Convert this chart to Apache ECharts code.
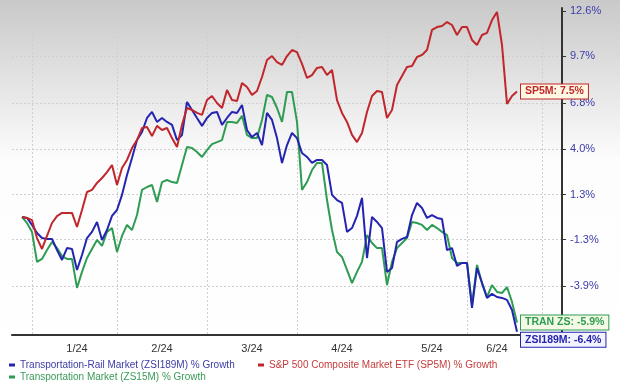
<!DOCTYPE html>
<html><head><meta charset="utf-8">
<script src="https://cdn.jsdelivr.net/npm/echarts@6/dist/echarts.min.js"></script>
<style>html,body{margin:0;padding:0;background:#fff}#c{width:620px;height:384px}</style>
</head><body><div id="c"></div>
<script>
// % growth, one value per sampled trading day
const railPct = [0.0,-0.06,-0.46,-0.92,-1.21,-1.26,-1.26,-1.89,-2.45,-1.78,
  -1.83,-3.01,-2.17,-1.21,-0.86,-0.29,-1.32,-0.75,0.06,0.40,
  1.28,2.45,3.46,4.53,5.02,5.87,6.24,5.63,5.87,5.63,
  5.45,4.53,4.84,6.85,6.36,5.87,5.39,5.87,6.18,6.24,
  5.45,5.87,6.24,6.18,6.67,5.14,4.71,4.96,4.23,6.18,
  5.75,4.65,3.16,4.23,4.96,4.65,3.75,3.52,3.16,3.34,
  3.34,3.04,1.28,0.98,0.81,-0.86,-0.64,0.06,1.10,-2.34,
  0.0,-0.29,-0.64,-3.12,-2.90,-1.43,-1.26,-1.15,0.11,0.81,
  0.52,-0.06,0.11,-0.06,-0.12,-1.89,-1.78,-2.79,-2.62,-2.62,
  -5.11,-2.90,-3.74,-4.56,-4.34,-4.51,-4.56,-4.67,-5.22,-6.4];
const sp5Pct = [0.0,-0.06,-0.18,-1.21,-1.83,-1.09,-0.35,0.05,0.23,0.23,
  0.23,-0.58,0.40,1.45,1.57,1.98,2.27,2.62,3.04,1.86,
  2.86,3.34,4.05,4.53,5.26,5.32,4.77,5.39,5.14,5.26,
  4.65,4.11,5.45,6.48,6.36,6.18,6.06,6.97,7.22,6.79,
  6.48,7.59,6.97,6.91,8.02,7.78,7.28,7.53,8.40,9.47,
  9.72,9.34,9.16,9.72,10.10,9.97,9.22,8.34,8.52,8.97,
  9.03,8.52,8.84,6.97,6.18,5.63,4.84,4.41,4.96,6.24,
  7.22,7.53,7.47,5.87,6.36,7.90,8.46,9.03,9.09,9.66,
  9.79,10.10,11.38,11.57,11.64,11.89,11.70,11.06,11.57,11.57,
  10.74,10.42,11.06,11.19,12.02,12.54,10.42,6.73,7.22,7.5];
const tranPct = [0.0,-0.35,-0.86,-2.56,-2.39,-1.89,-1.43,-1.78,-2.23,-2.39,
  -2.39,-4.01,-3.12,-2.34,-1.83,-1.32,-1.66,-0.86,-0.64,-2.00,
  -1.09,-0.46,-0.75,0.11,1.57,1.74,1.86,0.87,2.03,2.15,
  2.03,1.98,3.04,4.11,4.05,3.81,3.52,3.93,4.29,4.41,
  4.53,5.63,5.63,5.57,6.00,4.84,4.65,4.65,5.75,7.28,
  7.16,6.48,5.63,7.47,7.47,5.63,1.57,2.03,2.74,3.16,
  3.16,0.98,-0.75,-2.00,-2.28,-3.01,-3.74,-3.12,-2.56,-1.04,
  -1.49,-1.78,-1.78,-3.85,-2.56,-1.78,-1.49,-1.21,-0.29,-0.35,
  -0.46,-0.75,-0.46,-0.64,-0.86,-1.04,-2.34,-2.62,-2.62,-2.62,
  -4.95,-2.73,-3.74,-4.51,-3.85,-4.23,-4.29,-3.96,-4.78,-5.9];

const yTickLabels = [12.6, 9.7, 6.8, 4.0, 1.3, -1.3, -3.9];
const yRange = [-6.58, 12.8];
const monthLabels = ['1/24','2/24','3/24','4/24','5/24','6/24'];
const monthLabelDay = [11, 28, 46, 64, 82, 95];
const monthLineDay = [2, 19, 37, 55, 73, 89, 104];
const padBefore = 2, padAfter = 9;

const names = {
  rail: 'Transportation-Rail Market (ZSI189M) % Growth',
  sp5: 'S&P 500 Composite Market ETF (SP5M) % Growth',
  tran: 'Transportation Market (ZS15M) % Growth'
};
const colors = { rail: '#2424b0', sp5: '#c0262c', tran: '#2e9c52' };
const textColors = { rail: '#3b3ba6', sp5: '#c43c3c', tran: '#3a9a58' };

const toU = p => 100 * Math.log(1 + p / 100);   // log-scale coordinate
const fromU = u => (Math.exp(u / 100) - 1) * 100;

const nCat = padBefore + railPct.length + padAfter;
const cats = [];
for (let c = 0; c < nCat; c++) cats.push('d' + (c - padBefore));
const labelMap = {};
monthLabelDay.forEach((d, k) => { labelMap['d' + d] = monthLabels[k]; });
const labelIdx = new Set(monthLabelDay.map(d => d + padBefore));
const lineIdx = new Set(monthLineDay.map(d => d + padBefore));

function seriesData(arr) {
  const out = [];
  for (let i = 0; i < padBefore; i++) out.push(null);
  arr.forEach(v => out.push(toU(v)));
  return out;
}
function endLbl(tag, arr, key, off) {
  return {
    show: true,
    formatter: () => tag + ': ' + arr[arr.length - 1].toFixed(1) + '%',
    color: colors[key], fontWeight: 'bold', fontSize: 10.5, fontFamily: 'Liberation Sans',
    backgroundColor: key === 'rail' ? '#f3f3ff' : (key === 'tran' ? '#f3f9e4' : '#fff8e2'),
    borderColor: colors[key], borderWidth: 1, padding: [2, 4, 1, 4],
    distance: 4, offset: off
  };
}
function mkSeries(key, arr, tag, off) {
  return {
    name: names[key], type: 'line', data: seriesData(arr),
    showSymbol: false, symbol: 'none',
    lineStyle: { width: 2, color: colors[key] }, itemStyle: { color: colors[key] },
    endLabel: endLbl(tag, arr, key, off), animation: false
  };
}
function mkLegend(key, left, top) {
  return {
    data: [names[key]], left: left, top: top, icon: 'rect', itemWidth: 6, itemHeight: 3,
    padding: 0, textStyle: { color: textColors[key], fontSize: 10, fontFamily: 'Liberation Sans' }
  };
}

const chart = echarts.init(document.getElementById('c'), null, { renderer: 'canvas' });
chart.setOption({
  animation: false,
  backgroundColor: { type: 'linear', x: 0, y: 0, x2: 0, y2: 1,
    colorStops: [{ offset: 0, color: '#c9c9c9' }, { offset: 0.42, color: '#fdfdfd' }, { offset: 1, color: '#ffffff' }] },
  textStyle: { fontFamily: 'Liberation Sans' },
  grid: { left: 12, right: 58, top: 8, bottom: 49, containLabel: false, outerBoundsMode: 'none' },
  legend: [mkLegend('rail', 9, 360), mkLegend('sp5', 258, 360), mkLegend('tran', 9, 372)],
  xAxis: {
    type: 'category', data: cats, boundaryGap: false,
    axisLine: { show: true, onZero: false, lineStyle: { color: '#333', width: 2 } },
    axisTick: { show: false },
    axisLabel: { interval: (i) => labelIdx.has(i), formatter: (v) => labelMap[v] || '',
      color: '#333', fontSize: 11, margin: 8 },
    splitLine: { show: true, interval: (i) => lineIdx.has(i), lineStyle: { color: '#cfcfcf', type: [2, 2], width: 1 } }
  },
  yAxis: {
    type: 'value', position: 'right', min: toU(yRange[0]), max: toU(yRange[1]),
    axisLine: { show: true, lineStyle: { color: '#333', width: 2 } },
    axisTick: { show: true, length: 4, inside: false, lineStyle: { color: '#333', width: 1 },
      customValues: yTickLabels.map(toU) },
    axisLabel: { color: '#3c3caa', fontSize: 11, margin: 8, customValues: yTickLabels.map(toU),
      formatter: (v) => fromU(v).toFixed(1) + '%' },
    splitLine: { show: true, lineStyle: { color: '#cfcfcf', type: [2, 2], width: 1 } }
  },
  series: [
    mkSeries('tran', tranPct, 'TRAN ZS', [0, 0]),
    mkSeries('rail', railPct, 'ZSI189M', [0, 8]),
    mkSeries('sp5', sp5Pct, 'SP5M', [0, 0])
  ]
});
</script></body></html>
